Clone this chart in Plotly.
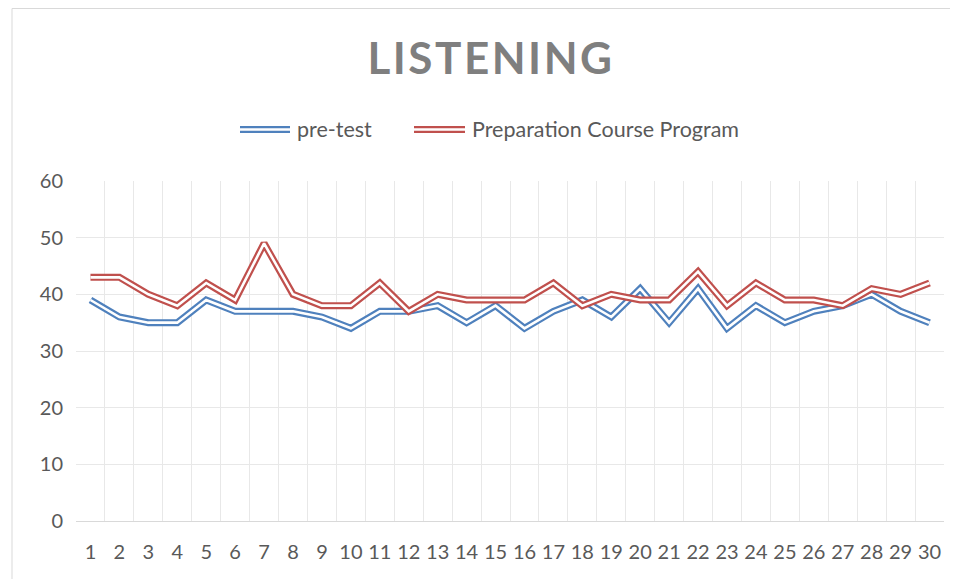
import plotly.graph_objects as go

categories = list(range(1, 31))
pre_test = [39, 36, 35, 35, 39, 37, 37, 37, 36, 34, 37, 37, 38, 35, 38, 34, 37, 39, 36, 41,
            35, 41, 34, 38, 35, 37, 38, 40, 37, 35]
prep_course = [43, 43, 40, 38, 42, 39, 49, 40, 38, 38, 42, 37, 40, 39, 39, 39, 42, 38, 40, 39,
               39, 44, 38, 42, 39, 39, 38, 41, 40, 42]
series_names = ["pre-test", "Preparation Course Program"]
y_ticks = [0, 10, 20, 30, 40, 50, 60]

BLUE = "#4F81BD"
RED = "#C0504D"
FONT = "Lato"
OUTER_W = 7
INNER_W = 2.6

fig = go.Figure()
for vals, col in [(pre_test, BLUE), (prep_course, RED)]:
    fig.add_trace(go.Scatter(x=categories, y=vals, mode="lines",
                             line=dict(color=col, width=OUTER_W), showlegend=False,
                             hoverinfo="skip"))
    fig.add_trace(go.Scatter(x=categories, y=vals, mode="lines",
                             line=dict(color="white", width=INNER_W), showlegend=False,
                             hoverinfo="skip"))

OFF = 8  # page body margin
W, H = 958 - OFF, 579 - OFF
# plot area in page pixels: x 76..944, y 181..521
L, T = 76 - OFF, 181 - OFF
R = W - (944 - OFF)
B = H - (521 - OFF)
pw, ph = W - L - R, H - T - B


def px(x):
    return (x - OFF - L) / pw


def py(y):
    return (H - B - (y - OFF)) / ph


shapes = []
# chart border
shapes.append(dict(type="rect", xref="paper", yref="paper",
                   x0=px(12), x1=px(1000), y0=py(8.5), y1=py(620),
                   line=dict(color="#D9D9D9", width=1), layer="below"))
# legend samples
LEG_Y = 129.5
legend_items = [(240, 290, 295, BLUE, series_names[0]), (414, 465, 470, RED, series_names[1])]
annotations = []
for x0, x1, tx, col, name in legend_items:
    shapes.append(dict(type="line", xref="paper", yref="paper", x0=px(x0), x1=px(x1),
                       y0=py(LEG_Y), y1=py(LEG_Y), line=dict(color=col, width=OUTER_W)))
    shapes.append(dict(type="line", xref="paper", yref="paper", x0=px(x0), x1=px(x1),
                       y0=py(LEG_Y), y1=py(LEG_Y), line=dict(color="white", width=INNER_W)))
    annotations.append(dict(text=name, xref="paper", yref="paper", x=px(tx), y=py(LEG_Y - 1),
                            xanchor="left", yanchor="middle", showarrow=False,
                            font=dict(family=FONT, size=21.5, color="#595959")))

fig.update_layout(
    width=W, height=H,
    margin=dict(l=L, r=R, t=T, b=B),
    paper_bgcolor="white", plot_bgcolor="white",
    title=dict(text="<b>LISTENING</b>", x=(491 - OFF) / W, y=1 - (59 - OFF) / H,
               xanchor="center", yanchor="middle",
               font=dict(family=FONT, size=44, color="#7F7F7F")),
    shapes=shapes, annotations=annotations,
    showlegend=False,
    xaxis=dict(range=[0.5, 30.5], tickmode="array", tickvals=categories,
               ticktext=[str(c) for c in categories], showgrid=False, zeroline=False,
               showline=True, linecolor="#D9D9D9", linewidth=1,
               tickfont=dict(family=FONT, size=20, color="#595959"), ticks="", ticklen=0,
               ticklabelstandoff=13,
               minor=dict(tickmode="linear", tick0=0.5, dtick=1, showgrid=True,
                          gridcolor="#E8E8E8", gridwidth=1)),
    yaxis=dict(range=[0, 60], tickmode="array", tickvals=y_ticks, showgrid=True,
               gridcolor="#E8E8E8", gridwidth=1, zeroline=False, showline=False,
               tickfont=dict(family=FONT, size=20, color="#595959"), ticks="",
               ticklabelstandoff=12),
)

post = """
var t = document.querySelector('.gtitle');
if (t) { t.style.letterSpacing = '2.5px'; }
"""
fig.write_html("out.html", post_script=post)
